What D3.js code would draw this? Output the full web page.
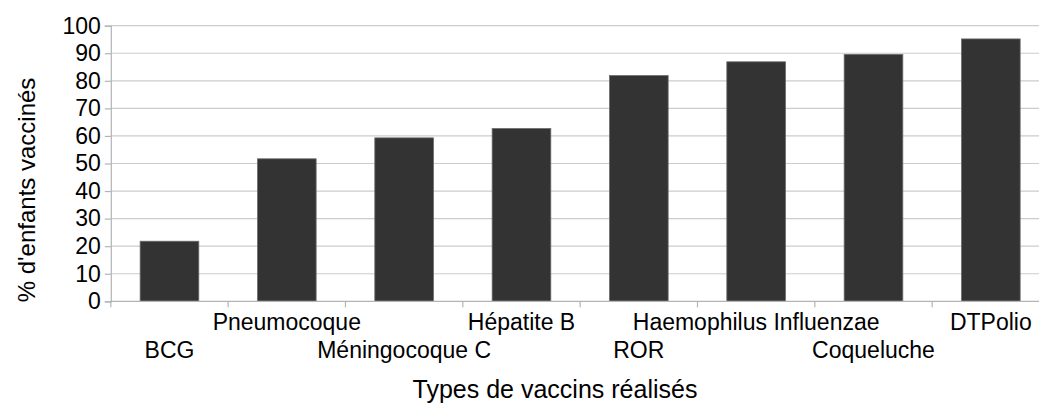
<!DOCTYPE html>
<html>
<head>
<meta charset="utf-8">
<script src="https://cdn.jsdelivr.net/npm/d3@7"></script>
<style>
  html, body { margin: 0; padding: 0; background: #fff; }
  svg { display: block; font-family: "Liberation Sans", Arial, sans-serif; }
</style>
</head>
<body>
<svg id="chart" width="1039" height="404"></svg>
<script>
// Vaccination coverage by vaccine type
const categories = ["BCG", "Pneumocoque", "Méningocoque C", "Hépatite B", "ROR",
                    "Haemophilus Influenzae", "Coqueluche", "DTPolio"];
const values = [21.8, 51.7, 59.3, 62.7, 81.9, 86.9, 89.6, 95.2];
const yTicks = [0, 10, 20, 30, 40, 50, 60, 70, 80, 90, 100];
const yTitle = "% d'enfants vaccinés";
const xTitle = "Types de vaccins réalisés";

const svg = d3.select("#chart");
const plotLeft = 110.8, plotRight = 1049.5, plotTop = 25.7, plotBottom = 301.3;

const x = d3.scaleBand().domain(categories).range([plotLeft, plotRight]).paddingInner(0.5).paddingOuter(0.25);
const y = d3.scaleLinear().domain([0, 100]).range([plotBottom, plotTop]);

// horizontal grid
svg.append("g").selectAll("line").data(yTicks.slice(1)).join("line")
  .attr("x1", plotLeft).attr("x2", plotRight)
  .attr("y1", d => y(d)).attr("y2", d => y(d))
  .attr("stroke", "#cccccc").attr("stroke-width", 1.2);

// bars
svg.append("g").selectAll("rect").data(values).join("rect")
  .attr("x", (d, i) => x(categories[i]))
  .attr("width", x.bandwidth())
  .attr("y", d => y(d))
  .attr("height", d => y(0) - y(d))
  .attr("fill", "#333333")
  .attr("stroke", "#6b6b6b").attr("stroke-width", 0.8);

// y axis
const yAxis = svg.append("g").attr("transform", `translate(${plotLeft},0)`)
  .call(d3.axisLeft(y).tickValues(yTicks).tickSize(6).tickPadding(4));
yAxis.select(".domain").attr("stroke", "#b3b3b3").attr("stroke-width", 1.2);
yAxis.selectAll(".tick line").attr("stroke", "#b3b3b3").attr("stroke-width", 1.2);
yAxis.selectAll(".tick text").attr("font-size", 23).attr("fill", "#000")
  .attr("font-family", "Liberation Sans, Arial, sans-serif");

// x axis: ticks at band boundaries
const bounds = d3.range(categories.length + 1).map(i => plotLeft + i * x.step());
svg.append("line").attr("x1", plotLeft).attr("x2", plotRight)
  .attr("y1", plotBottom).attr("y2", plotBottom)
  .attr("stroke", "#b3b3b3").attr("stroke-width", 1.2);
svg.append("g").selectAll("line").data(bounds).join("line")
  .attr("x1", d => d).attr("x2", d => d)
  .attr("y1", plotBottom).attr("y2", plotBottom + 6)
  .attr("stroke", "#b3b3b3").attr("stroke-width", 1.2);

// staggered category labels
svg.append("g").selectAll("text").data(categories).join("text")
  .attr("x", d => x(d) + x.bandwidth() / 2)
  .attr("y", (d, i) => i % 2 === 0 ? 358 : 330)
  .attr("text-anchor", "middle")
  .attr("font-size", 23)
  .attr("fill", "#000")
  .text(d => d);

// axis titles
svg.append("text")
  .attr("transform", `translate(35,190) rotate(-90)`)
  .attr("text-anchor", "middle")
  .attr("font-size", 24)
  .text(yTitle);

svg.append("text")
  .attr("x", 555).attr("y", 398)
  .attr("text-anchor", "middle")
  .attr("font-size", 25)
  .text(xTitle);
</script>
</body>
</html>
